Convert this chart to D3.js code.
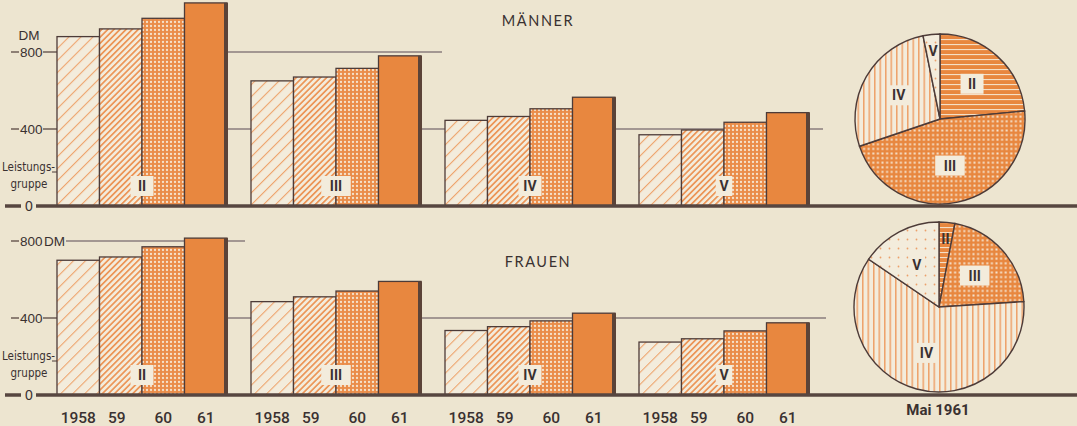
<!DOCTYPE html>
<html><head><meta charset="utf-8">
<script src="https://cdn.jsdelivr.net/npm/d3@7"></script>
<style>body{margin:0;background:#eee6d2}svg{display:block}</style>
</head><body>
<svg id="c" width="1077" height="426"></svg>
<script>
// ---- data ----
const groups = ["II", "III", "IV", "V"];
const years = ["1958", "1959", "1960", "1961"];
const yearLabels = ["1958", "59", "60", "61"];
const yTicks = [0, 400, 800];
// Männer, monthly earnings (DM) per Leistungsgruppe, 1958–61
const maennerII = [880, 920, 975, 1055];
const maennerIII = [650, 670, 715, 780];
const maennerIV = [445, 465, 505, 565];
const maennerV = [370, 395, 435, 485];
// Frauen
const frauenII = [700, 717, 770, 815];
const frauenIII = [485, 510, 540, 590];
const frauenIV = [335, 355, 385, 425];
const frauenV = [275, 292, 333, 375];
// Share of workers by Leistungsgruppe, Mai 1961 (%)
const pieGroups = ["II", "III", "IV", "V"];
const maennerShare = [23.5, 46.3, 27.0, 3.2];
const frauenShare = [3.0, 21.0, 60.5, 15.5];

// ---- style ----
const PAPER = "#ede5d0", CREAM = "#f3ecdc", ORANGE = "#e8873f", DARK = "#4d3b38", TXT = "#3a3131";
const svg = d3.select("#c");
svg.append("rect").attr("width", 1077).attr("height", 426).attr("fill", PAPER);
const defs = svg.append("defs");

function linePattern(id, size, lw, color, bg, rot) {
  const p = defs.append("pattern").attr("id", id).attr("patternUnits", "userSpaceOnUse")
    .attr("width", size).attr("height", size).attr("patternTransform", `rotate(${rot})`);
  p.append("rect").attr("width", size).attr("height", size).attr("fill", bg);
  p.append("rect").attr("x", 0).attr("width", lw).attr("height", size).attr("fill", color);
}
function dotPattern(id, size, r, color, bg) {
  const p = defs.append("pattern").attr("id", id).attr("patternUnits", "userSpaceOnUse")
    .attr("width", size).attr("height", size);
  p.append("rect").attr("width", size).attr("height", size).attr("fill", bg);
  p.append("circle").attr("cx", size / 2).attr("cy", size / 2).attr("r", r).attr("fill", color);
}
function squarePattern(id, size, s, color, bg) {
  const p = defs.append("pattern").attr("id", id).attr("patternUnits", "userSpaceOnUse")
    .attr("width", size).attr("height", size);
  p.append("rect").attr("width", size).attr("height", size).attr("fill", bg);
  p.append("rect").attr("x", (size - s) / 2).attr("y", (size - s) / 2).attr("width", s).attr("height", s).attr("fill", color);
}
linePattern("p1958", 8.5, 1.1, "#eea56e", CREAM, 45);
linePattern("p1959", 4.3, 1.7, "#ec9557", CREAM, 45);
dotPattern("p1960", 4, 1.15, "#f6e2cb", "#ea8c49");
linePattern("pieII", 5, 1.1, "#f5dfc6", ORANGE, 90);
squarePattern("pieIII", 4.6, 2, "#f5e2cc", ORANGE);
linePattern("pieIV", 5.5, 1.5, "#eea26a", CREAM, 0);
dotPattern("pieV", 9, 0.9, "#eca06a", CREAM);
const yearFill = ["url(#p1958)", "url(#p1959)", "url(#p1960)", ORANGE];
const pieFill = ["url(#pieII)", "url(#pieIII)", "url(#pieIV)", "url(#pieV)"];

const gx = d3.scaleBand().domain(groups).range([57, 809]).paddingInner(0.1237).paddingOuter(0);
const bx = d3.scaleBand().domain(years).range([0, gx.bandwidth()]).padding(0);

const panels = [
  { title: "MÄNNER", series: [maennerII, maennerIII, maennerIV, maennerV], share: maennerShare,
    base: 206, titleY: 26, pie: [940, 119], grid: [[800, 227, 442], [400, 227, 823]], dmBeside: false },
  { title: "FRAUEN", series: [frauenII, frauenIII, frauenIV, frauenV], share: frauenShare,
    base: 395, titleY: 267, pie: [939, 307], grid: [[800, 66, 245], [400, 227, 826]], dmBeside: true }
];

function labelBox(g, x, y, txt, box) {
  const w = 10 + txt.length * 6.5;
  if (box) g.append("rect").attr("x", x - w / 2).attr("y", y - 10).attr("width", w).attr("height", 20).attr("fill", CREAM);
  g.append("text").attr("x", x).attr("y", y + 5).attr("text-anchor", "middle")
    .attr("font-family", "Roboto, 'DejaVu Sans', sans-serif").attr("font-weight", 700)
    .attr("font-size", 14).attr("fill", TXT).text(txt);
}

panels.forEach((P) => {
  const y = d3.scaleLinear().domain([0, 800]).range([P.base, P.base - 154]);
  const g = svg.append("g");

  // title
  g.append("text").attr("x", 538).attr("y", P.titleY).attr("text-anchor", "middle")
    .attr("font-family", "Lato, 'Open Sans', sans-serif").attr("font-size", 14.5)
    .attr("letter-spacing", 1.6).attr("fill", TXT).text(P.title);

  // reference lines
  P.grid.forEach(([v, x0, x1]) => {
    g.append("line").attr("x1", x0).attr("x2", x1).attr("y1", y(v)).attr("y2", y(v))
      .attr("stroke", "#5a4a55").attr("stroke-width", 1.1);
  });

  // bars
  groups.forEach((grp, gi) => {
    const vals = P.series[gi];
    const gg = g.append("g").attr("transform", `translate(${gx(grp)},0)`);
    gg.selectAll("rect.bar").data(vals).join("rect").attr("class", "bar")
      .attr("x", (d, i) => bx(years[i])).attr("y", d => y(d))
      .attr("width", bx.bandwidth()).attr("height", d => P.base - y(d))
      .attr("fill", (d, i) => yearFill[i]).attr("stroke", DARK).attr("stroke-width", 1.3);
    // shadow on the 1961 bar
    gg.append("rect").attr("x", bx(years[3]) + bx.bandwidth() - 3).attr("y", y(vals[3]))
      .attr("width", 4).attr("height", P.base - y(vals[3])).attr("fill", "#5b4338");
    labelBox(gg, gx.bandwidth() / 2, P.base - 20, grp, true);
    if (P === panels[1]) {
      gg.selectAll("text.yr").data(yearLabels).join("text").attr("class", "yr")
        .attr("x", (d, i) => bx(years[i]) + bx.bandwidth() / 2 - (i === 1 ? 4 : 0)).attr("y", 423)
        .attr("text-anchor", "middle").attr("font-family", "Roboto, sans-serif").attr("font-weight", 500)
        .attr("font-size", 15.5).attr("fill", TXT).text(d => d);
    }
  });

  // baseline
  g.append("line").attr("x1", 36).attr("x2", 1077).attr("y1", P.base).attr("y2", P.base)
    .attr("stroke", "#574640").attr("stroke-width", 3.5);

  // left axis
  const af = "'Liberation Sans Narrow', 'DejaVu Sans Condensed', sans-serif";
  const nf = "'Liberation Sans', Arial, sans-serif";
  yTicks.forEach(t => {
    const yy = y(t);
    if (t === 0) {
      g.append("line").attr("x1", 5).attr("x2", 21).attr("y1", yy).attr("y2", yy).attr("stroke", "#574640").attr("stroke-width", 3.5);
      g.append("text").attr("x", 29).attr("y", yy + 5).attr("text-anchor", "middle").attr("font-family", nf)
        .attr("font-size", 14).attr("fill", TXT).text(t);
    } else {
      g.append("line").attr("x1", 11).attr("x2", 19).attr("y1", yy).attr("y2", yy).attr("stroke", DARK).attr("stroke-width", 1.2);
      g.append("text").attr("x", 20).attr("y", yy + 5).attr("font-family", nf)
        .attr("font-size", 13.5).attr("fill", TXT).text(t);
      if (P.dmBeside && t === 800) {
        g.append("text").attr("x", 44).attr("y", yy + 5).attr("font-family", nf)
          .attr("font-size", 13.5).attr("fill", TXT).text("DM");
      } else {
        g.append("line").attr("x1", 43).attr("x2", 57).attr("y1", yy).attr("y2", yy).attr("stroke", DARK).attr("stroke-width", 1.2);
      }
    }
  });
  if (!P.dmBeside) {
    g.append("text").attr("x", 29).attr("y", y(800) - 12).attr("text-anchor", "middle").attr("font-family", nf)
      .attr("font-size", 13.5).attr("fill", TXT).text("DM");
  }
  g.append("text").attr("x", 2).attr("y", P.base - 35).attr("font-family", af)
    .attr("font-size", 11.5).attr("fill", TXT).text("Leistungs-");
  g.append("line").attr("x1", 52).attr("x2", 57).attr("y1", P.base - 34).attr("y2", P.base - 34).attr("stroke", DARK).attr("stroke-width", 1);
  g.append("text").attr("x", 29).attr("y", P.base - 18).attr("text-anchor", "middle").attr("font-family", af)
    .attr("font-size", 11.5).attr("fill", TXT).text("gruppe");

  // pie
  const R = 85;
  const pie = d3.pie().sort(null).value(d => d)(P.share);
  const arc = d3.arc().innerRadius(0).outerRadius(R);
  const pg = g.append("g").attr("transform", `translate(${P.pie[0]},${P.pie[1]})`);
  pg.selectAll("path").data(pie).join("path").attr("d", arc)
    .attr("fill", (d, i) => pieFill[i]).attr("stroke", DARK).attr("stroke-width", 1.4);
  pie.forEach((d, i) => {
    const small = d.endAngle - d.startAngle < 0.35;
    const lr = small ? R * 0.8 : R * 0.56;
    const c = d3.arc().innerRadius(lr).outerRadius(lr).centroid(d);
    labelBox(pg, c[0], c[1], pieGroups[i], !small);
  });
});

svg.append("text").attr("x", 938).attr("y", 415).attr("text-anchor", "middle")
  .attr("font-family", "Roboto, sans-serif").attr("font-weight", 700).attr("font-size", 15)
  .attr("fill", TXT).text("Mai 1961");
</script>
</body></html>
